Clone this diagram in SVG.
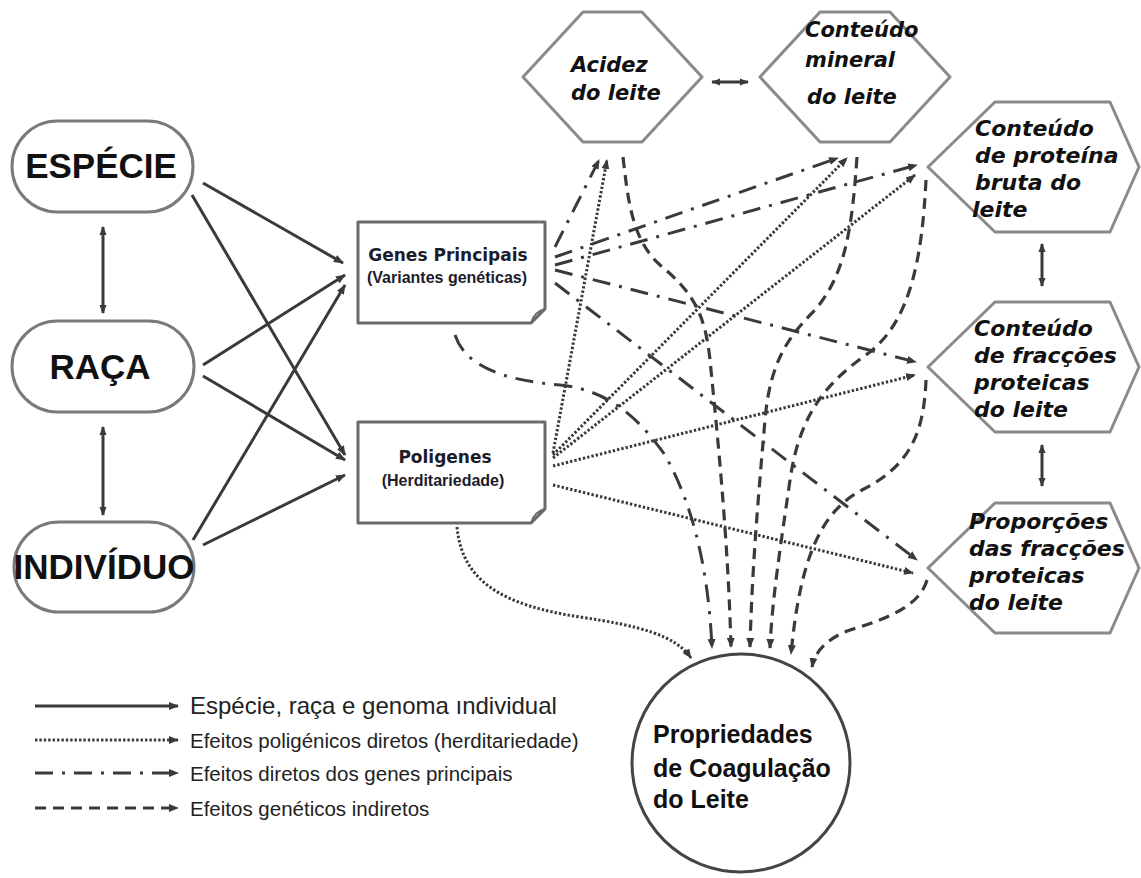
<svg xmlns="http://www.w3.org/2000/svg" width="1141" height="878" viewBox="0 0 1141 878">
<defs>
<style>
.node{fill:#fff;stroke:#7a7a7a;stroke-width:3}
.box{fill:#fff;stroke:#6a6a6a;stroke-width:3;stroke-linejoin:round}
.hex{fill:#fff;stroke:#8a8a8a;stroke-width:3;stroke-linejoin:round}
.circle{fill:#fff;stroke:#444;stroke-width:3}
.big{font-family:"Liberation Sans",Arial,sans-serif;font-weight:bold;font-size:35px;fill:#111;text-anchor:middle}
.gene{font-family:"DejaVu Sans",Verdana,sans-serif;font-weight:bold;font-size:17px;fill:#1c1c2a;text-anchor:middle}
.sub{font-family:"Liberation Sans",Arial,sans-serif;font-weight:bold;font-size:16px;fill:#1c1c2a;text-anchor:middle}
.hx{font-family:"DejaVu Sans",Verdana,sans-serif;font-weight:bold;font-style:italic;font-size:21px;fill:#111}
.hxr{font-family:"DejaVu Sans",Verdana,sans-serif;font-weight:bold;font-style:italic;font-size:22px;fill:#111}
.circ{font-family:"Liberation Sans",Arial,sans-serif;font-weight:bold;font-size:25px;fill:#111}
.leg{font-family:"Liberation Sans",Arial,sans-serif;font-size:20.5px;fill:#222}
.leg1{font-family:"Liberation Sans",Arial,sans-serif;font-size:24px;fill:#222}
.c{fill:none;stroke:#3a3a3a;stroke-width:3}
.dot{stroke-dasharray:2.4 2;stroke-width:3}
.dd{stroke-dasharray:18 9 3 9}
.dash{stroke-dasharray:11 7;stroke-width:3.2}
</style>
<marker id="ah" viewBox="0 0 10 10" refX="9" refY="5" markerWidth="10" markerHeight="10" markerUnits="userSpaceOnUse" orient="auto">
<path d="M0,1 L10,5 L0,9 z" fill="#3a3a3a"/>
</marker>
<marker id="ab" viewBox="0 0 10 10" refX="9" refY="5" markerWidth="9" markerHeight="9" markerUnits="userSpaceOnUse" orient="auto-start-reverse">
<path d="M0,1 L10,5 L0,9 z" fill="#3a3a3a"/>
</marker>
</defs>
<rect width="1141" height="878" fill="#fff"/>

<g id="connectors">
<!-- solid -->
<path class="c" d="M203,183 L343,263" marker-end="url(#ah)"/>
<path class="c" d="M192,195 L345,455" marker-end="url(#ah)"/>
<path class="c" d="M203,365 L345,275" marker-end="url(#ah)"/>
<path class="c" d="M203,376 L345,460" marker-end="url(#ah)"/>
<path class="c" d="M193,540 L345,285" marker-end="url(#ah)"/>
<path class="c" d="M203,545 L345,475" marker-end="url(#ah)"/>
<!-- double arrows -->
<path class="c" stroke-width="2.5" d="M103,227 L103,313" marker-start="url(#ab)" marker-end="url(#ab)"/>
<path class="c" stroke-width="2.5" d="M103,427 L103,515" marker-start="url(#ab)" marker-end="url(#ab)"/>
<path class="c" stroke-width="2.5" d="M712,82 L748,82" marker-start="url(#ab)" marker-end="url(#ab)"/>
<path class="c" stroke-width="2.5" d="M1042,244 L1042,286" marker-start="url(#ab)" marker-end="url(#ab)"/>
<path class="c" stroke-width="2.5" d="M1042,445 L1042,486" marker-start="url(#ab)" marker-end="url(#ab)"/>
<!-- dash-dot: genes principais -->
<path class="c dd" d="M555,247 L599,160" marker-end="url(#ah)"/>
<path class="c dd" d="M555,257 L838,158" marker-end="url(#ah)"/>
<path class="c dd" d="M555,265 L917,165" marker-end="url(#ah)"/>
<path class="c dd" d="M555,270 L916,362" marker-end="url(#ah)"/>
<path class="c dd" d="M555,283 L917,560" marker-end="url(#ah)"/>
<path class="c dd" d="M455,335 C465,365 500,380 560,385 C610,390 640,420 665,455 C690,500 708,560 712,648" marker-end="url(#ah)"/>
<!-- dotted: poligenes -->
<path class="c dot" d="M553,453 L607,160" marker-end="url(#ah)"/>
<path class="c dot" d="M553,455 L847,158" marker-end="url(#ah)"/>
<path class="c dot" d="M553,458 L915,175" marker-end="url(#ah)"/>
<path class="c dot" d="M553,466 L915,375" marker-end="url(#ah)"/>
<path class="c dot" d="M553,485 L913,573" marker-end="url(#ah)"/>
<path class="c dot" d="M457,527 C462,580 500,605 580,617 C640,626 675,635 691,658" marker-end="url(#ah)"/>
<!-- dashed: indirect -->
<path class="c dash" d="M623,157 C628,200 632,240 660,265 C690,290 705,310 710,360 C718,440 728,540 731,647" marker-end="url(#ah)"/>
<path class="c dash" d="M857,157 C852,230 845,275 815,310 C790,335 770,360 765,420 C758,500 752,570 750,647" marker-end="url(#ah)"/>
<path class="c dash" d="M926,180 C922,260 910,320 870,352 C830,380 800,410 790,480 C780,550 772,600 770,648" marker-end="url(#ah)"/>
<path class="c dash" d="M926,380 C924,430 912,465 862,490 C820,512 800,560 791,654" marker-end="url(#ah)"/>
<path class="c dash" d="M927,580 C920,605 890,618 850,630 C830,637 815,650 812,667" marker-end="url(#ah)"/>
</g>

<g id="especie">
<rect class="node" x="12" y="121" width="181" height="91" rx="45.5"/>
<text class="big" x="101" y="178">ESPÉCIE</text>
</g>
<g id="raca">
<rect class="node" x="12" y="321" width="182" height="91" rx="45.5"/>
<text class="big" x="100" y="379">RAÇA</text>
</g>
<g id="individuo">
<rect class="node" x="14" y="522" width="180" height="90" rx="45"/>
<text class="big" x="104" y="579">INDIVÍDUO</text>
</g>

<g id="genes-principais">
<path class="box" d="M358,222 L545,222 L545,309 L531,323 L358,323 Z"/>
<path fill="none" stroke="#6a6a6a" stroke-width="2" d="M531,323 Q534,312 545,309"/>
<text class="gene" x="448" y="261">Genes Principais</text>
<text class="sub" x="447" y="283">(Variantes genéticas)</text>
</g>
<g id="poligenes">
<path class="box" d="M358,422 L545,422 L545,509 L531,523 L358,523 Z"/>
<path fill="none" stroke="#6a6a6a" stroke-width="2" d="M531,523 Q534,512 545,509"/>
<text class="gene" x="445" y="463">Poligenes</text>
<text class="sub" x="443" y="486">(Herditariedade)</text>
</g>

<g id="acidez">
<polygon class="hex" points="523,77 583,12 642,12 702,77 642,142 583,142"/>
<text class="hx" x="571" y="72">Acidez</text>
<text class="hx" x="571" y="100">do leite</text>
</g>
<g id="mineral">
<polygon class="hex" points="760,77 820,12 890,12 950,77 890,142 820,142"/>
<text class="hx" x="805" y="37">Conteúdo</text>
<text class="hx" x="805" y="67">mineral</text>
<text class="hx" x="807" y="104">do leite</text>
</g>
<g id="proteina">
<polygon class="hex" points="928,167 995,102 1110,102 1139,167 1110,232 995,232"/>
<text class="hxr" x="975" y="136">Conteúdo</text>
<text class="hxr" x="975" y="163">de proteína</text>
<text class="hxr" x="975" y="190">bruta do</text>
<text class="hxr" x="972" y="217">leite</text>
</g>
<g id="fraccoes">
<polygon class="hex" points="928,367 995,302 1110,302 1139,367 1110,432 995,432"/>
<text class="hxr" x="974" y="336">Conteúdo</text>
<text class="hxr" x="974" y="363">de fracções</text>
<text class="hxr" x="974" y="390">proteicas</text>
<text class="hxr" x="974" y="417">do leite</text>
</g>
<g id="proporcoes">
<polygon class="hex" points="928,568 995,503 1110,503 1139,568 1110,633 995,633"/>
<text class="hxr" x="969" y="529">Proporções</text>
<text class="hxr" x="969" y="556">das fracções</text>
<text class="hxr" x="969" y="583">proteicas</text>
<text class="hxr" x="969" y="610">do leite</text>
</g>

<g id="coagulacao">
<circle class="circle" cx="741" cy="763" r="109"/>
<text class="circ" x="653" y="743">Propriedades</text>
<text class="circ" x="653" y="777">de Coagulação</text>
<text class="circ" x="653" y="808">do Leite</text>
</g>

<g id="legend">
<path class="c" d="M35,706 L178,706" marker-end="url(#ah)"/>
<path class="c dot" d="M35,740 L178,740" marker-end="url(#ah)"/>
<path class="c dd" d="M35,773 L178,773" marker-end="url(#ah)"/>
<path class="c dash" d="M35,808 L178,808" marker-end="url(#ah)"/>
<text class="leg1" x="190" y="714">Espécie, raça e genoma ındividual</text>
<text class="leg" x="190" y="748">Efeitos poligénicos diretos (herditariedade)</text>
<text class="leg" x="190" y="781">Efeitos diretos dos genes principais</text>
<text class="leg" x="190" y="816">Efeitos genéticos indiretos</text>
</g>
</svg>
